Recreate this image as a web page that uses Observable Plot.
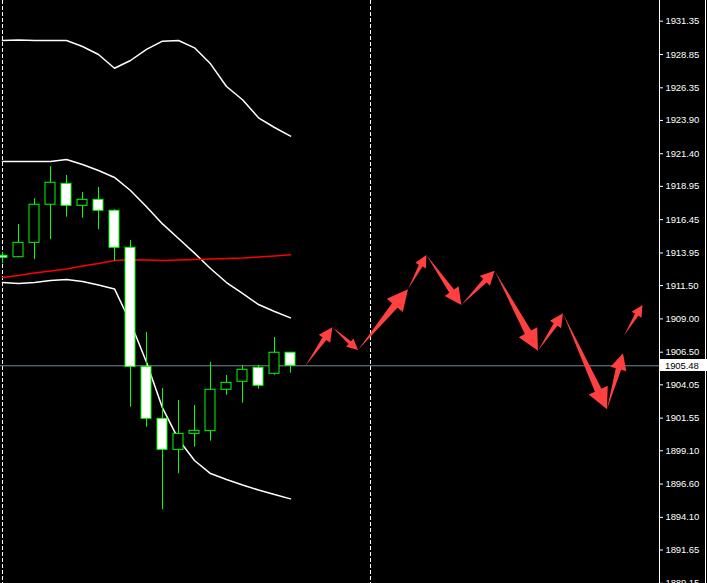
<!DOCTYPE html>
<html><head><meta charset="utf-8">
<script src="https://cdn.jsdelivr.net/npm/d3@7"></script>
<script src="https://cdn.jsdelivr.net/npm/@observablehq/plot@0.6"></script>
<style>
html,body{margin:0;padding:0;background:#000;}
#chart{position:relative;width:707px;height:583px;overflow:hidden;background:#000;}
#chart svg text{letter-spacing:-0.1px;}
</style></head><body><div id="chart"></div>
<script>
// bar index (each bar one period)
const barIndex = [0,1,2,3,4,5,6,7,8,9,10,11,12,13,14,15,16,17,18];
const open  = [1913.74,1913.63,1914.71,1917.57,1919.14,1917.49,1917.94,1917.12,1914.34,1905.40,1901.50,1899.17,1900.37,1900.57,1903.68,1904.28,1905.33,1904.88,1906.46];
const high  = [1914.01,1916.09,1918.02,1920.44,1919.77,1918.49,1918.87,1917.19,1914.89,1907.98,1903.78,1902.87,1902.50,1905.73,1904.75,1905.50,1905.50,1907.60,1906.46];
const low   = [1913.14,1913.59,1913.44,1914.94,1916.64,1916.56,1915.69,1913.33,1902.37,1900.87,1894.67,1897.37,1899.37,1899.82,1903.27,1902.67,1903.72,1904.77,1904.92];
const close = [1913.59,1914.71,1917.57,1919.22,1917.49,1917.94,1917.12,1914.34,1905.40,1901.50,1899.17,1900.37,1900.60,1903.68,1904.20,1905.18,1903.98,1906.46,1905.48];

// indicator lines
const bandTop    = [1929.90,1929.94,1929.90,1929.90,1929.90,1929.45,1928.85,1927.82,1928.40,1929.23,1929.85,1929.90,1929.35,1928.15,1926.45,1925.45,1924.10,1923.37,1922.72];
const bandUpper  = [1920.82,1920.82,1920.82,1920.82,1920.97,1920.59,1920.14,1919.62,1918.64,1917.42,1916.13,1915.04,1913.94,1912.78,1911.73,1910.91,1910.08,1909.56,1909.08];
const bandMiddle = [1912.11,1912.26,1912.45,1912.60,1912.75,1912.97,1913.16,1913.39,1913.44,1913.42,1913.39,1913.42,1913.46,1913.50,1913.53,1913.57,1913.65,1913.72,1913.81];
const bandLower  = [1911.73,1911.66,1911.73,1911.88,1911.96,1911.81,1911.55,1911.25,1908.73,1905.74,1902.32,1899.95,1898.37,1897.39,1896.94,1896.53,1896.15,1895.82,1895.49];

// projected zigzag arrows (bar position, price)
const zigX = [18.96,20.65,22.25,25.375,26.525,28.71,30.79,33.5,35.06,37.81,38.81];
const zigY = [1905.42,1908.33,1906.63,1911.18,1913.76,1910.01,1912.58,1906.58,1909.38,1902.18,1906.38];
const lastArrowX = [38.875,40.03];
const lastArrowY = [1907.70,1910.01];

// period separators
const separators = [0, 23];
const currentPrice = 1905.48;
const tickValues = [1931.35,1928.85,1926.35,1923.90,1921.40,1918.95,1916.45,1913.95,1911.50,1909.00,1906.50,1904.05,1901.55,1899.10,1896.60,1894.10,1891.65,1889.15];

const candles = barIndex.map((k,i)=>({k, open:open[i], high:high[i], low:low[i], close:close[i]}));
const bodyHalf = 5/16;

const overlay = (index, scales, values, dims) => {
  const x = scales.x, y = scales.y;
  const g = d3.create("svg:g");
  const red = "#ff4040";
  function arrow(ax, ay, bx, by) {
    const sx = x(ax), sy = y(ay), ex = x(bx), ey = y(by);
    const dx = ex - sx, dy = ey - sy, L = Math.hypot(dx, dy);
    const ux = dx / L, uy = dy / L, nx = -uy, ny = ux;
    const h = Math.min(21, 0.22 * L + 3.5), hw = 0.5 * h, sw = 0.17 * h;
    const bx0 = ex - ux * h, by0 = ey - uy * h;
    const pts = [[sx, sy], [bx0 + nx * sw, by0 + ny * sw], [bx0 + nx * hw, by0 + ny * hw], [ex, ey], [bx0 - nx * hw, by0 - ny * hw], [bx0 - nx * sw, by0 - ny * sw]];
    g.append("path").attr("d", "M" + pts.map(p => p[0].toFixed(2) + "," + p[1].toFixed(2)).join("L") + "Z").attr("fill", red);
  }
  for (let i = 0; i < zigX.length - 1; i++) arrow(zigX[i], zigY[i], zigX[i+1], zigY[i+1]);
  arrow(lastArrowX[0], lastArrowY[0], lastArrowX[1], lastArrowY[1]);
  const ax = dims.width - dims.marginRight;
  g.append("line").attr("x1", ax + 0.5).attr("x2", ax + 0.5).attr("y1", 0).attr("y2", dims.height).attr("stroke", "#fff");
  g.append("line").attr("x1", dims.width - 1.5).attr("x2", dims.width - 1.5).attr("y1", 0).attr("y2", dims.height).attr("stroke", "#fff");
  const py = y(currentPrice);
  g.append("rect").attr("x", ax + 1).attr("y", Math.round(py) - 6).attr("width", dims.marginRight).attr("height", 12).attr("fill", "#fff");
  g.append("text").attr("x", ax + 6).attr("y", Math.round(py) + 0.5).attr("dy", "0.35em")
    .attr("text-anchor", "start").attr("fill", "#000").attr("font-size", "9.5px").text(currentPrice.toFixed(2));
  return g.node();
};

const chart = Plot.plot({
  width: 707, height: 583,
  marginLeft: 0, marginRight: 48, marginTop: 0, marginBottom: 0,
  style: {background: "#000", color: "#fff", fontFamily: "'Liberation Sans', Arial, sans-serif", fontSize: "9.5px"},
  x: {domain: [-0.125, 41.0625], axis: null},
  y: {domain: [1889.135, 1932.904], axis: "right", ticks: tickValues, tickFormat: d => d.toFixed(2), tickSize: 3, tickPadding: 3, label: null},
  marks: [
    Plot.ruleX(separators, {stroke: "#fff", strokeDasharray: "4,2"}),
    Plot.ruleY([currentPrice], {stroke: "#778899"}),
    Plot.line(barIndex, {x: d => d, y: (d, i) => bandTop[i], stroke: "#fff"}),
    Plot.line(barIndex, {x: d => d, y: (d, i) => bandUpper[i], stroke: "#fff"}),
    Plot.line(barIndex, {x: d => d, y: (d, i) => bandLower[i], stroke: "#fff"}),
    Plot.line(barIndex, {x: d => d, y: (d, i) => bandMiddle[i], stroke: "#ff0000"}),
    Plot.ruleX(candles, {x: "k", y1: "low", y2: "high", stroke: "#00ff00"}),
    Plot.rect(candles, {x1: d => d.k - bodyHalf, x2: d => d.k + bodyHalf, y1: "open", y2: "close", fill: d => d.close > d.open ? "#000" : "#fff", stroke: "#00ff00"}),
    overlay
  ]
});
document.getElementById("chart").appendChild(chart);
</script></body></html>
